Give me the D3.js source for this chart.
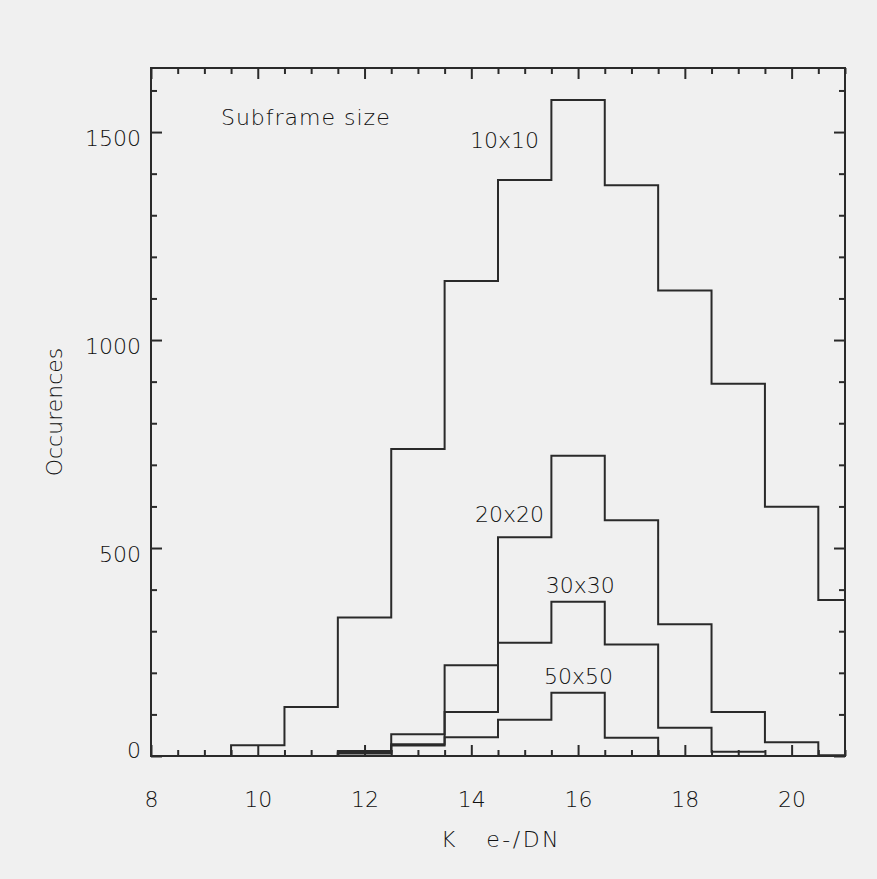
<!DOCTYPE html>
<meta charset="utf-8">
<script src="https://d3js.org/d3.v7.min.js"></script>
<style>
  body { margin: 0; background: #f0f0f0; }
  text { font-family: "DejaVu Sans", sans-serif; font-weight: 200; fill: #111; }
</style>
<div id="my_dataviz"></div>
<script>

// data: bin centres and counts per subframe size
var centers10 = [8, 9, 10, 11, 12, 13, 14, 15, 16, 17, 18, 19, 20, 21];
var counts10  = [0, 0, 26, 118, 333, 738, 1142, 1385, 1577, 1372, 1119, 895, 599, 375];

var centers20 = [8, 9, 10, 11, 12, 13, 14, 15, 16, 17, 18, 19, 20, 21];
var counts20  = [0, 0, 0, 0, 12, 52, 218, 526, 722, 567, 317, 106, 33, 2];

var centers30 = [8, 9, 10, 11, 12, 13, 14, 15, 16, 17, 18, 19];
var counts30  = [0, 0, 0, 0, 9, 28, 106, 272, 371, 268, 68, 10];

var centers50 = [8, 9, 10, 11, 12, 13, 14, 15, 16, 17, 18];
var counts50  = [0, 0, 0, 0, 6, 25, 45, 87, 152, 44, 0];

var xMajor = [8, 10, 12, 14, 16, 18, 20];
var yMajor = [0, 500, 1000, 1500];

// labels drawn inside the plot, placed in data units
var seriesLabels = ["10x10", "20x20", "30x30", "50x50"];
var labelX = [15.27, 15.36, 16.04, 16.01];
var labelY = [1461, 562, 392, 173];
var labelAnchor = ["end", "end", "middle", "middle"];

// set the dimensions and margins of the graph
var margin = {top: 68, right: 32, bottom: 123, left: 151},
    width = 845 - margin.left,
    height = 756 - margin.top;

var svg = d3.select("#my_dataviz")
  .append("svg")
    .attr("width", 877)
    .attr("height", 879)
  .append("g")
    .attr("transform", "translate(" + margin.left + "," + margin.top + ")");

var x = d3.scaleLinear().domain([8, 21]).range([0, width]);
var y = d3.scaleLinear().domain([0, 1654]).range([height, 0]);

var xMinor = d3.range(8, 21.01, 0.5).filter(function(v) { return xMajor.indexOf(v) < 0; });
var yMinor = d3.range(0, 1654, 100).filter(function(v) { return yMajor.indexOf(v) < 0; });

function styleAxis(g) {
  g.select(".domain").remove();
  g.selectAll("line").attr("stroke", "#2a2a2a").attr("stroke-width", 2);
  g.selectAll("text").style("font-size", "22px").attr("fill", "#111");
}

// bottom axis with labels
svg.append("g")
  .attr("transform", "translate(0," + height + ")")
  .call(d3.axisBottom(x).tickValues(xMajor).tickSize(-11).tickPadding(35).tickFormat(d3.format("d")))
  .call(styleAxis);
svg.append("g")
  .attr("transform", "translate(0," + height + ")")
  .call(d3.axisBottom(x).tickValues(xMinor).tickSize(-6).tickFormat(""))
  .call(styleAxis);
// top axis, ticks only
svg.append("g")
  .call(d3.axisTop(x).tickValues(xMajor).tickSize(-11).tickFormat(""))
  .call(styleAxis);
svg.append("g")
  .call(d3.axisTop(x).tickValues(xMinor).tickSize(-6).tickFormat(""))
  .call(styleAxis);

// left axis with labels
svg.append("g")
  .call(d3.axisLeft(y).tickValues(yMajor).tickSize(-11).tickPadding(10).tickFormat(d3.format("d")))
  .call(styleAxis)
  .selectAll("text")
    .attr("dy", function(d) { return d === 0 ? "0.05em" : "0.6em"; });
svg.append("g")
  .call(d3.axisLeft(y).tickValues(yMinor).tickSize(-6).tickFormat(""))
  .call(styleAxis);
// right axis, ticks only
svg.append("g")
  .attr("transform", "translate(" + width + ",0)")
  .call(d3.axisRight(y).tickValues(yMajor).tickSize(-11).tickFormat(""))
  .call(styleAxis);
svg.append("g")
  .attr("transform", "translate(" + width + ",0)")
  .call(d3.axisRight(y).tickValues(yMinor).tickSize(-6).tickFormat(""))
  .call(styleAxis);

// frame
svg.append("rect")
  .attr("width", width)
  .attr("height", height)
  .attr("fill", "none")
  .attr("stroke", "#2a2a2a")
  .attr("stroke-width", 2);

svg.append("clipPath").attr("id", "plotclip")
  .append("rect").attr("width", width).attr("height", height);

// histogram steps, centred bins (each end runs half a bin out)
var line = d3.line()
  .x(function(d) { return x(d[0]); })
  .y(function(d) { return y(d[1]); })
  .curve(d3.curveStepAfter);

function steps(centers, counts) {
  var pts = centers.map(function(c, i) { return [c - 0.5, counts[i]]; });
  pts.push([centers[centers.length - 1] + 0.5, counts[counts.length - 1]]);
  return pts;
}

var series = [
  steps(centers10, counts10),
  steps(centers20, counts20),
  steps(centers30, counts30),
  steps(centers50, counts50)
];

svg.append("g")
  .attr("clip-path", "url(#plotclip)")
  .selectAll("path")
  .data(series)
  .enter()
  .append("path")
    .attr("d", line)
    .attr("fill", "none")
    .attr("stroke", "#2a2a2a")
    .attr("stroke-width", 2);

// series labels
svg.selectAll("text.lab")
  .data(seriesLabels)
  .enter()
  .append("text")
    .attr("class", "lab")
    .attr("x", function(d, i) { return x(labelX[i]); })
    .attr("y", function(d, i) { return y(labelY[i]); })
    .attr("text-anchor", function(d, i) { return labelAnchor[i]; })
    .style("font-size", "22px")
    .text(function(d) { return d; });

svg.append("text")
  .attr("x", x(9.31))
  .attr("y", y(1517))
  .style("font-size", "22px")
  .style("letter-spacing", "1px")
  .text("Subframe size");

// axis titles
svg.append("text")
  .attr("x", width / 2 + 3)
  .attr("y", height + 91)
  .attr("text-anchor", "middle")
  .style("font-size", "22px")
  .style("letter-spacing", "2.5px")
  .style("white-space", "pre")
  .text("K   e-/DN");

svg.append("text")
  .attr("transform", "translate(" + (62 - margin.left) + "," + (height / 2) + ") rotate(-90)")
  .attr("text-anchor", "middle")
  .style("font-size", "22px")
  .text("Occurences");

</script>
